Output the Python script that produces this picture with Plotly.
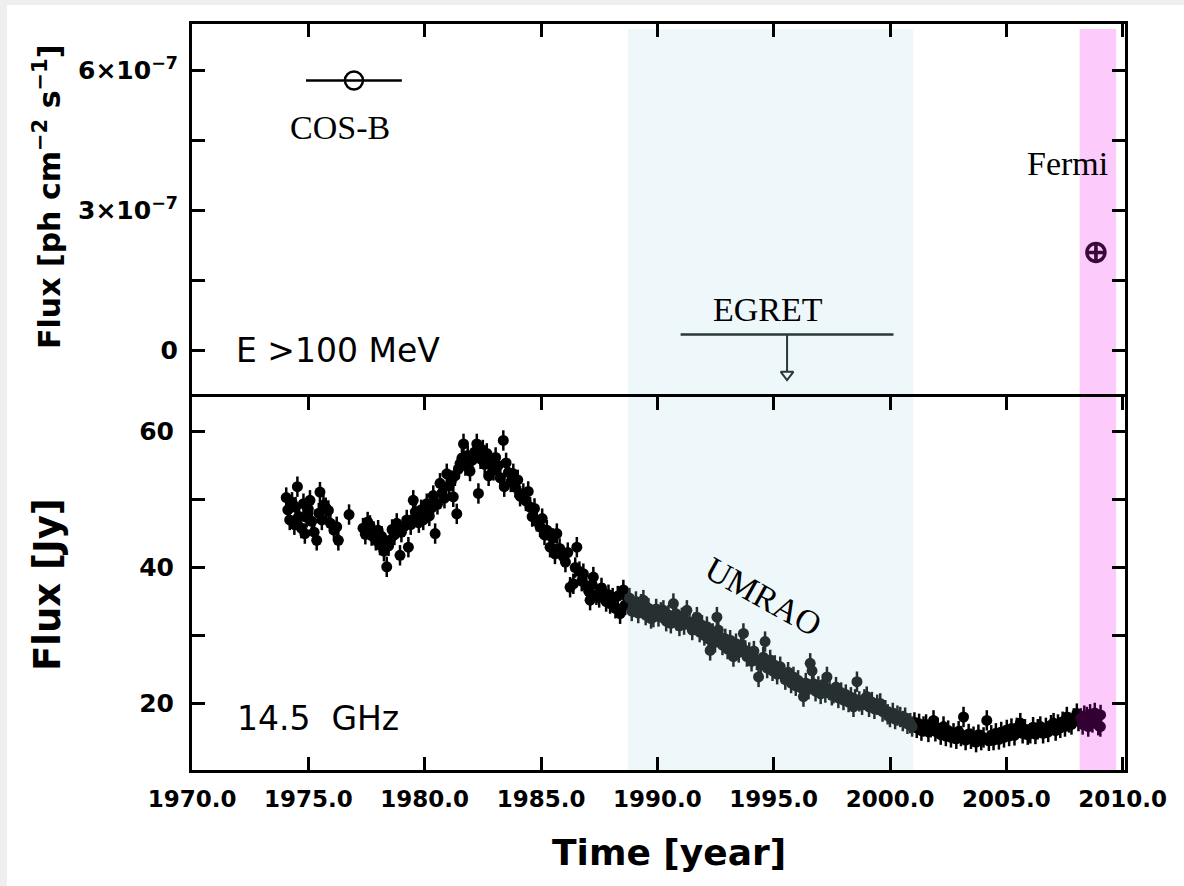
import numpy as np
import plotly.graph_objects as go

# ---------------- data ----------------
# UMRAO 14.5 GHz light curve (year, flux Jy)
umrao_year = [
    1974.05, 1974.12, 1974.20, 1974.30, 1974.40, 1974.45, 1974.53, 1974.60, 1974.70, 1974.79,
    1974.85, 1974.93, 1975.00, 1975.07, 1975.15, 1975.25, 1975.36, 1975.45, 1975.50, 1975.58,
    1975.65, 1975.75, 1975.86, 1975.95, 1976.10, 1976.22, 1976.29, 1976.75,
    1977.35, 1977.45, 1977.55, 1977.65, 1977.72, 1977.80, 1977.90, 1978.00, 1978.08, 1978.15,
    1978.25, 1978.37, 1978.45, 1978.51, 1978.60, 1978.70, 1978.80, 1978.94, 1979.00, 1979.10,
    1979.23, 1979.30, 1979.40, 1979.51, 1979.60, 1979.66, 1979.75, 1979.85, 1979.94, 1980.05,
    1980.09, 1980.20, 1980.30, 1980.37, 1980.45, 1980.55, 1980.66, 1980.75, 1980.85, 1980.95,
    1981.05, 1981.15, 1981.23, 1981.30, 1981.38, 1981.45, 1981.52, 1981.60,
    1981.67, 1981.75, 1981.85, 1981.95, 1982.05, 1982.15, 1982.24, 1982.31, 1982.40, 1982.50,
    1982.58, 1982.67, 1982.75, 1982.85, 1982.96, 1983.05, 1983.15, 1983.25, 1983.38, 1983.42,
    1983.50, 1983.60, 1983.70, 1983.81, 1983.90, 1984.00, 1984.10, 1984.24, 1984.35, 1984.45,
    1984.53, 1984.62, 1984.72, 1984.82, 1984.96, 1985.05, 1985.15, 1985.25, 1985.39, 1985.50,
    1985.60, 1985.68, 1985.80, 1985.96, 1986.05, 1986.15, 1986.25, 1986.39, 1986.47, 1986.54,
    1986.65, 1986.75, 1986.82, 1986.95, 1987.05, 1987.11, 1987.20, 1987.25, 1987.38, 1987.50,
    1987.60, 1987.68, 1987.80, 1987.90, 1987.97, 1988.08, 1988.20, 1988.30, 1988.40, 1988.54,
    1988.62,
    1988.80, 1988.90, 1988.97, 1989.08, 1989.18, 1989.30, 1989.40, 1989.50, 1989.62, 1989.73,
    1989.83, 1989.95, 1990.05, 1990.15, 1990.26, 1990.38, 1990.48, 1990.58, 1990.69, 1990.80,
    1990.84, 1990.95, 1991.05, 1991.15, 1991.27, 1991.38, 1991.50, 1991.60, 1991.70, 1991.82,
    1991.92, 1992.02, 1992.13, 1992.20, 1992.27, 1992.38, 1992.48, 1992.56, 1992.62, 1992.70,
    1992.80, 1992.92, 1993.02, 1993.13, 1993.20, 1993.27, 1993.38, 1993.50, 1993.60, 1993.70,
    1993.78, 1993.85, 1993.95, 1994.05, 1994.15, 1994.28, 1994.35, 1994.45, 1994.55, 1994.63,
    1994.72, 1994.85, 1994.95, 1995.05, 1995.15, 1995.28, 1995.38, 1995.50, 1995.62, 1995.75,
    1995.85, 1995.95, 1996.05, 1996.18, 1996.28, 1996.38, 1996.50, 1996.57, 1996.65, 1996.71,
    1996.80, 1996.92, 1997.02, 1997.12, 1997.22, 1997.29, 1997.40, 1997.50, 1997.57, 1997.68,
    1997.78, 1997.90, 1998.00, 1998.10, 1998.22, 1998.32, 1998.43, 1998.50, 1998.58, 1998.68,
    1998.80, 1998.90, 1999.00, 1999.10, 1999.22, 1999.33, 1999.45, 1999.58, 1999.68, 1999.80,
    1999.90, 2000.00, 2000.12, 2000.22, 2000.32, 2000.44, 2000.55, 2000.65, 2000.75, 2000.87,
    2000.95,
    2001.05, 2001.15, 2001.25, 2001.35, 2001.44, 2001.55, 2001.65, 2001.75, 2001.87, 2001.95,
    2002.05, 2002.18, 2002.30, 2002.40, 2002.50, 2002.62, 2002.73, 2002.85, 2002.95, 2003.05,
    2003.16, 2003.25, 2003.38, 2003.48, 2003.59, 2003.70, 2003.80, 2003.92, 2004.02, 2004.16,
    2004.25, 2004.35, 2004.45, 2004.55, 2004.68, 2004.78, 2004.90, 2005.02, 2005.12, 2005.22,
    2005.35, 2005.45, 2005.60, 2005.70, 2005.80, 2005.92, 2006.03, 2006.15, 2006.25, 2006.35,
    2006.46, 2006.58, 2006.70, 2006.80, 2006.92, 2007.03, 2007.12, 2007.22, 2007.32, 2007.42,
    2007.52, 2007.60, 2007.70, 2007.80, 2007.90, 2008.03, 2008.10,
    2008.20, 2008.28, 2008.35, 2008.46, 2008.52, 2008.60, 2008.70, 2008.80, 2008.89, 2008.95,
    2009.04, 2009.05,
]
umrao_flux = [
    50.3, 48.5, 47.0, 49.6, 46.3, 48.9, 51.9, 47.5, 45.8, 49.4,
    45.0, 47.4, 48.6, 49.9, 46.8, 45.2, 44.0, 48.0, 51.1, 47.0,
    49.2, 48.8, 48.4, 46.5, 45.5, 46.0, 44.0, 47.8,
    45.8, 44.9, 46.7, 46.2, 44.7, 45.3, 44.0, 45.5, 43.3, 44.6,
    42.4, 40.1, 43.2, 44.0, 45.6, 44.8, 46.5, 41.8, 45.2, 46.0,
    47.0, 43.0, 46.3, 49.9, 48.2, 47.4, 46.6, 48.5, 47.0, 48.0,
    49.4, 47.6, 48.8, 50.6, 45.0, 49.3, 52.4, 51.0, 50.2, 53.8,
    52.0, 52.8, 50.4, 53.5, 47.9, 54.5, 55.3, 56.1,
    58.2, 55.0, 56.5, 54.2, 55.8, 57.0, 58.2, 50.9, 56.0, 57.3,
    55.2, 56.8, 53.5, 55.6, 54.3, 56.2, 55.0, 53.2, 58.7, 51.9,
    55.4, 54.0, 52.6, 53.8, 51.8, 52.9, 50.5, 50.9, 49.8, 51.2,
    48.9, 47.5, 48.7, 46.8, 46.0, 47.2, 44.8, 45.5, 43.0, 44.3,
    42.0, 45.0, 42.8, 41.6, 40.8, 42.2, 37.1, 37.6, 40.0, 43.0,
    39.4, 38.0, 39.1, 37.3, 36.5, 35.2, 37.5, 38.6, 36.0, 35.6,
    37.0, 36.2, 35.0, 36.0, 34.7, 35.5, 34.0, 35.8, 33.2, 36.7,
    34.5,
    35.5, 33.6, 34.2, 35.0, 33.3, 34.6, 35.2, 33.0, 34.0, 32.5,
    32.7, 33.9, 32.8, 33.4, 33.7, 32.1, 33.0, 31.8, 34.7, 33.2,
    32.2, 31.4, 32.6, 31.6, 33.7, 32.0, 30.8, 31.9, 32.7, 30.5,
    31.5, 30.0, 31.3, 29.5, 27.8, 30.3, 29.0, 32.7, 30.8, 29.8,
    28.6, 29.5, 28.0, 29.3, 28.4, 26.9, 28.8, 27.5, 28.6, 30.3,
    27.8, 26.9, 27.5, 26.2, 27.7, 26.4, 23.9, 25.8, 26.8, 29.1,
    25.2, 26.4, 24.8, 25.6, 24.3, 25.4, 24.4, 23.5, 24.6, 23.0,
    23.9, 22.6, 23.4, 22.3, 21.0, 23.0, 22.1, 25.9, 24.8, 22.9,
    21.8, 22.5, 21.4, 22.8, 21.6, 23.9, 22.0, 21.2, 21.5, 22.4,
    20.8, 21.6, 20.5, 21.3, 20.2, 20.9, 19.5, 20.6, 23.2, 20.3,
    19.8, 20.6, 21.0, 19.5, 20.2, 19.2, 19.8, 20.0, 18.8, 19.0,
    18.4, 18.0, 18.6, 17.7, 18.2, 18.0, 17.4, 17.9, 17.0, 17.1,
    16.6,
    17.2, 16.4, 17.0, 16.0, 16.6, 16.9, 15.8, 16.5, 17.5, 15.9,
    16.4, 15.4, 16.6, 15.2, 16.0, 15.0, 15.6, 14.8, 15.9, 15.2,
    18.0, 14.6, 15.5, 14.8, 15.1, 14.3, 15.4, 14.6, 15.0, 17.5,
    14.5, 15.3, 14.6, 15.6, 14.7, 15.8, 15.0, 16.1, 15.2, 16.3,
    15.3, 16.4, 17.1, 15.6, 16.2, 15.4, 15.6, 16.5, 15.5, 16.2,
    16.6, 15.6, 16.4, 15.8, 16.8, 17.1, 16.0, 16.9, 16.4, 17.3,
    16.6, 18.0, 17.2, 16.9, 17.8, 18.5, 17.4,
    17.8, 16.9, 18.2, 18.0, 16.6, 18.4, 17.2, 18.6, 17.5, 16.8,
    16.6, 18.3,
]

# Gamma-ray (E > 100 MeV) measurements
cosb_year, cosb_year_err, cosb_flux = 1976.96, 2.06, 5.79e-7
egret_start, egret_end, egret_ul = 1991.0, 2000.15, 3.4e-8
fermi_year, fermi_flux, fermi_err = 2008.85, 2.1e-7, 0.1e-7

# observation windows (shaded bands)
egret_window = [1988.74, 2001.0]
fermi_window = [2008.15, 2009.72]

# axis ticks
x_ticks = [1970, 1975, 1980, 1985, 1990, 1995, 2000, 2005, 2010]
x_ticktext = ["1970.0", "1975.0", "1980.0", "1985.0", "1990.0", "1995.0", "2000.0", "2005.0", "2010.0"]
top_ticks = [0, 1.5e-7, 3e-7, 4.5e-7, 6e-7]
top_ticktext = ["0", "", "3×10<sup>−7</sup>", "", "6×10<sup>−7</sup>"]
bot_ticks = [20, 30, 40, 50, 60]
bot_ticktext = ["20", "", "40", "", "60"]

# ---------------- figure ----------------
W, H = 1184, 886
L, R, T, B = 192, 1125, 24, 770


def px(xp):
    return (xp - L) / (R - L)


def py(yp):
    return (B - yp) / (B - T)


yr = np.array(umrao_year)
fl = np.array(umrao_flux)
in_egret = (yr >= egret_window[0]) & (yr <= egret_window[1])
in_fermi = (yr >= fermi_window[0]) & (yr <= fermi_window[1])
plain = ~(in_egret | in_fermi)

fig = go.Figure()

for mask, col in [(plain, "#000000"), (in_egret, "#263030"), (in_fermi, "#330033")]:
    fig.add_trace(go.Scatter(
        x=yr[mask], y=fl[mask], mode="markers", xaxis="x", yaxis="y",
        marker=dict(size=11, color=col, line=dict(width=0)),
        error_y=dict(type="constant", value=1.5, color=col, thickness=2.5, width=0),
        showlegend=False, hoverinfo="x+y",
    ))

# COS-B
fig.add_trace(go.Scatter(
    x=[cosb_year], y=[cosb_flux], mode="markers", xaxis="x2", yaxis="y2",
    marker=dict(symbol="circle-open", size=18, color="#000000", line=dict(width=2.5)),
    error_x=dict(type="data", array=[cosb_year_err], color="#000000", thickness=2.5, width=0),
    showlegend=False,
))
# EGRET upper limit
egret_mid = (egret_start + egret_end) / 2
fig.add_trace(go.Scatter(
    x=[egret_start, egret_end], y=[egret_ul, egret_ul], mode="lines", xaxis="x2", yaxis="y2",
    line=dict(color="#2a3838", width=2.5), showlegend=False,
))
arrow_len = 8.0e-8
fig.add_trace(go.Scatter(
    x=[egret_mid, egret_mid], y=[egret_ul, egret_ul - arrow_len], mode="lines", xaxis="x2", yaxis="y2",
    line=dict(color="#2a3838", width=2), showlegend=False,
))
fig.add_trace(go.Scatter(
    x=[egret_mid], y=[egret_ul - arrow_len - 0.6e-8], mode="markers", xaxis="x2", yaxis="y2",
    marker=dict(symbol="triangle-down-open", size=11, color="#2a3838", line=dict(width=2)),
    showlegend=False,
))
# Fermi
fig.add_trace(go.Scatter(
    x=[fermi_year], y=[fermi_flux], mode="markers", xaxis="x2", yaxis="y2",
    marker=dict(symbol="circle-cross-open", size=18, color="#3a0a3a", line=dict(width=3.5)),
    error_y=dict(type="data", array=[fermi_err], color="#3a0a3a", thickness=3, width=0),
    showlegend=False,
))

tickfont_x = dict(family="DejaVu Sans", size=23, color="#000000", weight="bold")
tickfont_y = dict(family="DejaVu Sans", size=25, color="#000000", weight="bold")
axis_common = dict(showline=True, linecolor="#000000", linewidth=3, ticks="inside",
                   ticklen=13, tickwidth=2.5, tickcolor="#000000", showgrid=False, zeroline=False)

fig.update_layout(
    width=W, height=H,
    margin=dict(l=L, r=W - R, t=T, b=H - B, pad=0),
    paper_bgcolor="#efefef", plot_bgcolor="#ffffff",
    xaxis=dict(domain=[0, 1], anchor="y", range=[1970, 2010.1], tickvals=x_ticks, ticktext=x_ticktext,
               tickfont=tickfont_x, mirror="allticks", ticklabelstandoff=6, **axis_common),
    yaxis=dict(domain=[0, 0.5], anchor="x", range=[10.2, 65.1], tickvals=bot_ticks, ticktext=bot_ticktext,
               tickfont=tickfont_y, mirror="allticks", ticklabelstandoff=10, **axis_common),
    xaxis2=dict(domain=[0, 1], anchor="y2", matches="x", side="top", showticklabels=False,
                tickvals=x_ticks, mirror=False, **axis_common),
    yaxis2=dict(domain=[0.5, 1], anchor="x2", range=[-1.0e-7, 7.0e-7], tickvals=top_ticks,
                ticktext=top_ticktext, tickfont=tickfont_y, mirror="allticks", ticklabelstandoff=6,
                **axis_common),
)

# card background and observation bands
fig.add_shape(type="rect", xref="paper", yref="paper", x0=px(7), x1=px(W + 5), y0=py(H + 5), y1=py(5),
              fillcolor="#ffffff", line=dict(width=0), layer="below")
for (x0, x1), col in [(egret_window, "#eef7f9"), (fermi_window, "#fccbfc")]:
    fig.add_shape(type="rect", xref="x", yref="paper", x0=x0, x1=x1, y0=0, y1=py(29),
                  fillcolor=col, line=dict(width=0), layer="below")

serif = dict(family="Liberation Serif, Times New Roman, serif", size=34, color="#000000")
sans = dict(family="DejaVu Sans", size=33, color="#000000")
ann = [
    dict(x=1976.36, y=4.78e-7, xref="x2", yref="y2", text="COS-B", font=serif),
    dict(x=1994.76, y=0.88e-7, xref="x2", yref="y2", text="EGRET", font=serif),
    dict(x=2009.45, y=4.0e-7, xref="x2", yref="y2", text="Fermi", font=serif, xanchor="right"),
    dict(x=1971.8, y=0.0, xref="x2", yref="y2", text="E >100 MeV", font=sans, xanchor="left"),
    dict(x=1971.85, y=17.8, xref="x", yref="y", text="14.5  GHz", font=sans, xanchor="left"),
    dict(x=1994.55, y=35.7, xref="x", yref="y", text="UMRAO", font=serif, textangle=29),
    dict(x=px(47), y=py(197), xref="paper", yref="paper", textangle=-90,
         text="Flux [ph cm<sup>−2</sup> s<sup>−1</sup>]",
         font=dict(family="DejaVu Sans", size=30, color="#000000", weight="bold")),
    dict(x=px(47), y=py(585), xref="paper", yref="paper", textangle=-90, text="Flux [Jy]",
         font=dict(family="DejaVu Sans", size=37, color="#000000", weight="bold")),
    dict(x=px(669), y=py(852), xref="paper", yref="paper", text="Time [year]",
         font=dict(family="DejaVu Sans", size=36, color="#000000", weight="bold")),
]
for a in ann:
    a.setdefault("showarrow", False)
    a.setdefault("xanchor", "center")
    a.setdefault("yanchor", "middle")
fig.update_layout(annotations=ann)

fig.write_html("out.html")
